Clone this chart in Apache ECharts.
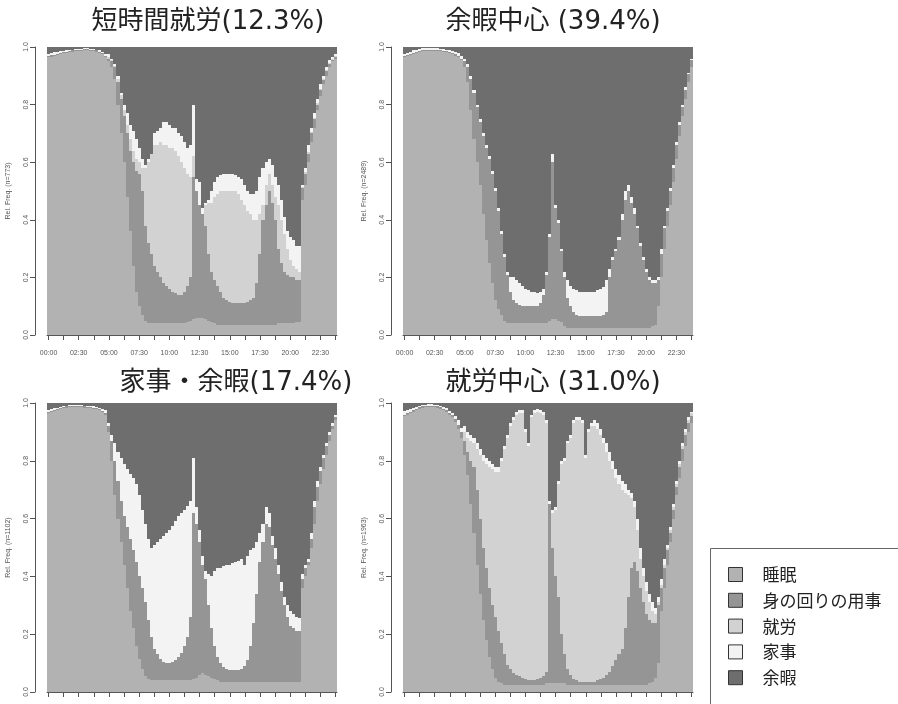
<!DOCTYPE html>
<html>
<head>
<meta charset="utf-8">
<script src="https://cdn.jsdelivr.net/npm/echarts@6/dist/echarts.min.js"></script>
<style>
  html, body { margin: 0; padding: 0; background: #fff; }
  #chart { width: 898px; height: 704px; }
</style>
</head>
<body>
<div id="chart"></div>
<script>
// 15-minute time slots of the day
const slots = ["00:00","00:15","00:30","00:45","01:00","01:15","01:30","01:45","02:00","02:15","02:30","02:45","03:00","03:15","03:30","03:45","04:00","04:15","04:30","04:45","05:00","05:15","05:30","05:45","06:00","06:15","06:30","06:45","07:00","07:15","07:30","07:45","08:00","08:15","08:30","08:45","09:00","09:15","09:30","09:45","10:00","10:15","10:30","10:45","11:00","11:15","11:30","11:45","12:00","12:15","12:30","12:45","13:00","13:15","13:30","13:45","14:00","14:15","14:30","14:45","15:00","15:15","15:30","15:45","16:00","16:15","16:30","16:45","17:00","17:15","17:30","17:45","18:00","18:15","18:30","18:45","19:00","19:15","19:30","19:45","20:00","20:15","20:30","20:45","21:00","21:15","21:30","21:45","22:00","22:15","22:30","22:45","23:00","23:15","23:30","23:45"];
const tickLabels = ["00:00","02:30","05:00","07:30","10:00","12:30","15:00","17:30","20:00","22:30"];
const states = ["睡眠", "身の回りの用事", "就労", "家事", "余暇"];
const clusterTitles = ["短時間就労(12.3%)", "余暇中心 (39.4%)", "家事・余暇(17.4%)", "就労中心 (31.0%)"];
const clusterN = [773, 2489, 1102, 1963];

// Cumulative upper edge of each state (share of respondents), per slot.
// Cluster 1: 短時間就労
const c1Sleep = [0.965,0.967,0.969,0.972,0.975,0.978,0.98,0.982,0.984,0.985,
  0.986,0.987,0.988,0.988,0.987,0.986,0.984,0.98,0.975,0.965,
  0.95,0.93,0.89,0.80,0.70,0.60,0.48,0.36,0.24,0.15,
  0.10,0.07,0.05,0.04,0.04,0.04,0.04,0.04,0.04,0.04,
  0.04,0.04,0.04,0.04,0.04,0.04,0.045,0.05,0.055,0.06,
  0.06,0.06,0.055,0.05,0.045,0.04,0.035,0.035,0.035,0.035,
  0.035,0.035,0.035,0.035,0.035,0.035,0.035,0.035,0.035,0.035,
  0.035,0.035,0.035,0.035,0.035,0.035,0.04,0.04,0.04,0.04,
  0.04,0.04,0.045,0.045,0.47,0.52,0.60,0.67,0.72,0.78,
  0.83,0.87,0.90,0.93,0.95,0.96];
const c1Self = [0.969,0.971,0.973,0.976,0.979,0.982,0.984,0.986,0.988,0.989,
  0.99,0.991,0.992,0.992,0.991,0.99,0.988,0.984,0.979,0.97,
  0.96,0.95,0.93,0.88,0.82,0.76,0.70,0.64,0.60,0.57,
  0.56,0.50,0.38,0.32,0.28,0.24,0.22,0.20,0.18,0.17,
  0.16,0.15,0.145,0.14,0.14,0.15,0.17,0.20,0.55,0.50,
  0.45,0.42,0.38,0.28,0.22,0.19,0.17,0.15,0.13,0.12,
  0.115,0.11,0.11,0.11,0.11,0.11,0.115,0.12,0.13,0.18,
  0.28,0.40,0.45,0.50,0.46,0.40,0.30,0.25,0.22,0.21,
  0.20,0.20,0.19,0.19,0.51,0.56,0.63,0.70,0.75,0.80,
  0.85,0.885,0.915,0.94,0.955,0.965];
const c1Work = [0.969,0.971,0.973,0.976,0.979,0.982,0.984,0.986,0.988,0.989,
  0.99,0.991,0.992,0.992,0.991,0.99,0.988,0.984,0.979,0.97,
  0.965,0.955,0.935,0.89,0.835,0.78,0.73,0.68,0.64,0.61,
  0.60,0.58,0.58,0.60,0.63,0.66,0.66,0.67,0.66,0.66,
  0.65,0.65,0.64,0.62,0.60,0.58,0.56,0.55,0.62,0.50,
  0.45,0.42,0.45,0.46,0.46,0.48,0.49,0.50,0.50,0.50,
  0.50,0.50,0.50,0.49,0.47,0.45,0.43,0.42,0.40,0.40,
  0.42,0.45,0.52,0.56,0.52,0.48,0.45,0.40,0.35,0.30,
  0.26,0.24,0.23,0.22,0.515,0.565,0.635,0.705,0.755,0.805,
  0.855,0.89,0.92,0.945,0.96,0.97];
const c1House = [0.977,0.979,0.981,0.983,0.985,0.987,0.989,0.99,0.991,0.992,
  0.993,0.994,0.995,0.995,0.994,0.993,0.991,0.988,0.984,0.977,
  0.975,0.96,0.94,0.90,0.84,0.80,0.77,0.73,0.71,0.68,
  0.65,0.61,0.59,0.61,0.63,0.70,0.71,0.72,0.74,0.74,
  0.73,0.72,0.72,0.70,0.69,0.67,0.65,0.66,0.80,0.54,
  0.53,0.44,0.46,0.47,0.50,0.53,0.55,0.555,0.56,0.56,
  0.56,0.56,0.555,0.55,0.54,0.52,0.50,0.49,0.49,0.50,
  0.55,0.58,0.60,0.61,0.59,0.55,0.52,0.47,0.41,0.36,
  0.34,0.33,0.31,0.31,0.52,0.58,0.66,0.72,0.77,0.82,
  0.87,0.90,0.93,0.955,0.965,0.975];

// Cluster 2: 余暇中心
const c2Sleep = [0.965,0.968,0.972,0.976,0.98,0.983,0.985,0.986,0.987,0.987,
  0.987,0.986,0.985,0.983,0.981,0.978,0.975,0.97,0.965,0.955,
  0.93,0.88,0.78,0.68,0.60,0.52,0.42,0.33,0.25,0.18,
  0.12,0.09,0.07,0.05,0.04,0.04,0.04,0.04,0.04,0.04,
  0.04,0.04,0.04,0.04,0.04,0.04,0.04,0.04,0.05,0.055,
  0.055,0.05,0.045,0.03,0.025,0.025,0.025,0.025,0.025,0.025,
  0.025,0.025,0.025,0.025,0.025,0.025,0.025,0.025,0.025,0.025,
  0.025,0.025,0.025,0.025,0.025,0.025,0.025,0.025,0.025,0.025,
  0.025,0.025,0.03,0.035,0.10,0.20,0.30,0.38,0.45,0.53,
  0.61,0.69,0.76,0.82,0.88,0.93];
const c2Self = [0.969,0.972,0.976,0.98,0.984,0.987,0.989,0.99,0.991,0.991,
  0.991,0.99,0.989,0.987,0.985,0.982,0.979,0.974,0.969,0.96,
  0.95,0.93,0.89,0.84,0.79,0.74,0.69,0.65,0.61,0.56,
  0.50,0.43,0.35,0.27,0.21,0.15,0.12,0.11,0.105,0.10,
  0.10,0.10,0.10,0.10,0.10,0.11,0.14,0.21,0.34,0.60,
  0.44,0.39,0.29,0.20,0.13,0.10,0.08,0.07,0.065,0.065,
  0.065,0.065,0.065,0.065,0.065,0.065,0.07,0.08,0.20,0.26,
  0.29,0.33,0.40,0.47,0.50,0.46,0.42,0.37,0.31,0.26,
  0.22,0.19,0.18,0.18,0.19,0.28,0.37,0.43,0.50,0.58,
  0.66,0.73,0.79,0.85,0.905,0.955];
const c2Work = c2Self.slice();
const c2House = [0.977,0.98,0.984,0.988,0.991,0.993,0.995,0.996,0.996,0.996,
  0.996,0.995,0.994,0.993,0.991,0.989,0.986,0.982,0.978,0.97,
  0.96,0.94,0.90,0.85,0.80,0.75,0.70,0.66,0.62,0.57,
  0.51,0.44,0.36,0.28,0.22,0.20,0.20,0.19,0.18,0.17,
  0.16,0.155,0.15,0.15,0.145,0.15,0.16,0.22,0.35,0.63,
  0.45,0.40,0.30,0.22,0.19,0.17,0.16,0.155,0.15,0.15,
  0.15,0.15,0.15,0.15,0.155,0.16,0.165,0.19,0.23,0.27,
  0.30,0.34,0.42,0.50,0.52,0.48,0.44,0.38,0.32,0.27,
  0.23,0.20,0.19,0.19,0.20,0.30,0.38,0.44,0.51,0.59,
  0.67,0.74,0.80,0.86,0.91,0.96];

// Cluster 3: 家事・余暇
const c3Sleep = [0.965,0.968,0.972,0.976,0.979,0.982,0.984,0.985,0.986,0.986,
  0.986,0.985,0.984,0.983,0.982,0.98,0.978,0.975,0.97,0.96,
  0.90,0.80,0.68,0.60,0.52,0.44,0.36,0.28,0.22,0.16,
  0.115,0.08,0.055,0.045,0.04,0.04,0.04,0.04,0.04,0.04,
  0.04,0.04,0.04,0.04,0.04,0.04,0.04,0.04,0.045,0.05,
  0.06,0.065,0.06,0.055,0.05,0.045,0.04,0.035,0.035,0.035,
  0.035,0.035,0.035,0.035,0.035,0.035,0.035,0.035,0.035,0.035,
  0.035,0.035,0.035,0.035,0.035,0.035,0.035,0.035,0.035,0.035,
  0.035,0.035,0.035,0.035,0.36,0.40,0.44,0.50,0.58,0.66,
  0.72,0.77,0.82,0.87,0.91,0.94];
const c3Self = [0.969,0.972,0.976,0.98,0.983,0.986,0.988,0.989,0.99,0.99,
  0.99,0.989,0.988,0.987,0.986,0.984,0.982,0.979,0.974,0.965,
  0.92,0.87,0.80,0.73,0.66,0.61,0.57,0.53,0.49,0.45,
  0.40,0.36,0.31,0.25,0.19,0.15,0.13,0.115,0.105,0.10,
  0.10,0.105,0.11,0.12,0.135,0.16,0.19,0.26,0.62,0.58,
  0.52,0.44,0.39,0.30,0.22,0.16,0.12,0.10,0.085,0.08,
  0.075,0.075,0.075,0.075,0.08,0.09,0.11,0.16,0.24,0.34,
  0.45,0.52,0.58,0.57,0.51,0.46,0.41,0.35,0.30,0.26,
  0.23,0.22,0.21,0.21,0.39,0.43,0.45,0.53,0.64,0.71,
  0.765,0.81,0.85,0.89,0.92,0.95];
const c3Work = c3Self.slice();
const c3House = [0.975,0.978,0.981,0.984,0.987,0.989,0.991,0.992,0.993,0.993,
  0.993,0.992,0.991,0.99,0.989,0.988,0.986,0.984,0.98,0.975,
  0.93,0.89,0.86,0.83,0.81,0.79,0.77,0.755,0.74,0.72,
  0.68,0.63,0.58,0.53,0.50,0.51,0.52,0.53,0.54,0.55,
  0.56,0.575,0.59,0.61,0.62,0.63,0.645,0.66,0.81,0.64,
  0.56,0.47,0.42,0.41,0.40,0.42,0.43,0.43,0.435,0.44,
  0.44,0.445,0.45,0.455,0.46,0.44,0.47,0.49,0.50,0.52,
  0.55,0.58,0.64,0.62,0.54,0.50,0.44,0.38,0.33,0.30,
  0.28,0.27,0.26,0.255,0.41,0.44,0.46,0.55,0.66,0.73,
  0.78,0.82,0.86,0.90,0.93,0.96];

// Cluster 4: 就労中心
const c4Sleep = [0.955,0.96,0.965,0.97,0.975,0.98,0.983,0.985,0.986,0.986,
  0.985,0.983,0.98,0.975,0.97,0.96,0.95,0.935,0.91,0.88,
  0.82,0.75,0.65,0.55,0.44,0.34,0.25,0.18,0.12,0.08,
  0.05,0.035,0.03,0.025,0.025,0.025,0.025,0.025,0.025,0.025,
  0.025,0.025,0.025,0.025,0.025,0.025,0.025,0.03,0.03,0.03,
  0.03,0.03,0.03,0.03,0.025,0.025,0.025,0.025,0.025,0.025,
  0.025,0.025,0.025,0.025,0.025,0.025,0.025,0.025,0.025,0.025,
  0.025,0.025,0.025,0.025,0.025,0.025,0.025,0.025,0.025,0.025,
  0.025,0.03,0.035,0.05,0.10,0.28,0.36,0.44,0.52,0.60,
  0.68,0.74,0.80,0.85,0.90,0.93];
const c4Self = [0.96,0.965,0.97,0.975,0.98,0.985,0.988,0.99,0.991,0.991,
  0.99,0.988,0.985,0.98,0.975,0.965,0.957,0.945,0.925,0.90,
  0.87,0.83,0.80,0.78,0.70,0.60,0.50,0.43,0.36,0.30,
  0.26,0.21,0.17,0.13,0.095,0.08,0.065,0.06,0.055,0.05,
  0.045,0.04,0.04,0.04,0.045,0.05,0.055,0.07,0.65,0.50,
  0.40,0.33,0.20,0.13,0.08,0.06,0.045,0.04,0.035,0.035,
  0.035,0.035,0.035,0.035,0.04,0.045,0.05,0.06,0.07,0.09,
  0.11,0.13,0.15,0.22,0.33,0.43,0.45,0.42,0.36,0.31,
  0.27,0.25,0.24,0.24,0.30,0.36,0.43,0.49,0.55,0.63,
  0.71,0.78,0.84,0.89,0.93,0.955];
const c4Work = [0.96,0.965,0.97,0.975,0.98,0.985,0.988,0.99,0.991,0.991,
  0.99,0.988,0.985,0.98,0.975,0.965,0.957,0.945,0.925,0.90,
  0.90,0.88,0.87,0.86,0.84,0.82,0.80,0.79,0.78,0.77,
  0.76,0.76,0.80,0.84,0.88,0.92,0.94,0.96,0.965,0.965,
  0.90,0.85,0.95,0.965,0.97,0.965,0.96,0.93,0.65,0.62,
  0.63,0.72,0.79,0.80,0.86,0.88,0.93,0.94,0.94,0.93,
  0.81,0.90,0.92,0.92,0.91,0.89,0.86,0.83,0.80,0.77,
  0.74,0.72,0.70,0.69,0.68,0.67,0.64,0.56,0.46,0.40,
  0.35,0.31,0.28,0.27,0.31,0.37,0.44,0.50,0.56,0.64,
  0.72,0.79,0.85,0.90,0.94,0.965];
const c4House = [0.972,0.976,0.98,0.984,0.987,0.99,0.992,0.994,0.995,0.995,
  0.994,0.992,0.99,0.986,0.982,0.974,0.966,0.955,0.94,0.915,
  0.92,0.90,0.89,0.88,0.86,0.84,0.82,0.81,0.80,0.79,
  0.78,0.78,0.81,0.85,0.89,0.93,0.95,0.97,0.975,0.975,
  0.91,0.86,0.96,0.975,0.98,0.975,0.97,0.94,0.66,0.63,
  0.64,0.73,0.80,0.81,0.87,0.89,0.94,0.95,0.95,0.94,
  0.82,0.91,0.93,0.94,0.93,0.91,0.88,0.86,0.83,0.80,
  0.77,0.75,0.73,0.72,0.70,0.69,0.66,0.60,0.50,0.43,
  0.38,0.34,0.31,0.29,0.33,0.39,0.46,0.51,0.57,0.65,
  0.73,0.80,0.86,0.91,0.95,0.97];

const clusterLevels = [
  [c1Sleep, c1Self, c1Work, c1House],
  [c2Sleep, c2Self, c2Work, c2House],
  [c3Sleep, c3Self, c3Work, c3House],
  [c4Sleep, c4Self, c4Work, c4House]
];

// ---- styling / layout ----
const stateColors = ["#b2b2b2", "#959595", "#d2d2d2", "#f3f3f3", "#6e6e6e"];
const plotBoxes = [
  { left: 47, top: 47, width: 290, height: 288 },
  { left: 403, top: 47, width: 290, height: 288 },
  { left: 47, top: 403, width: 290, height: 289 },
  { left: 403, top: 403, width: 290, height: 289 }
];
const titleAnchors = [[208, 22], [553, 22], [236, 383], [553, 383]];
const axisFont = "Liberation Sans, Arial, sans-serif";
const axisGrey = "#555";

// Whole-pixel edge; the small bias keeps shared edges of neighbouring slots identical.
const snap = (v) => Math.round(v + 1e-3);

// One block per slot, from the lower to the upper edge of a state.
function renderSlot(params, api) {
  const i = api.value(0);
  const lo = api.coord([i, api.value(1)]);
  const hi = api.coord([i, api.value(2)]);
  const w = api.size([1, 0])[0];
  const x0 = snap(lo[0] - w / 2), x1 = snap(lo[0] + w / 2);
  const yb = snap(lo[1]), yt = snap(hi[1]);
  if (yb - yt <= 0 || x1 - x0 <= 0) return null;
  return {
    type: "rect",
    shape: { x: x0, y: yt, width: x1 - x0, height: yb - yt },
    style: { fill: api.visual("color") }
  };
}

const grids = [], xAxes = [], yAxes = [], series = [];
clusterLevels.forEach((levels, k) => {
  grids.push(Object.assign({ containLabel: false, outerBoundsMode: "none" }, plotBoxes[k]));
  xAxes.push({
    type: "category", gridIndex: k, data: slots, boundaryGap: true,
    offset: 7,
    axisLine: { show: true, lineStyle: { color: axisGrey, width: 1 } },
    axisTick: { show: true, alignWithLabel: true, length: 5,
      interval: (i) => i % 5 === 0, lineStyle: { color: axisGrey } },
    axisLabel: { show: true, interval: (i, v) => tickLabels.indexOf(v) >= 0,
      fontSize: 7, color: axisGrey, fontFamily: axisFont, margin: 8 },
    splitLine: { show: false }
  });
  yAxes.push({
    type: "value", gridIndex: k, min: 0, max: 1, interval: 0.2, offset: 12,
    name: "Rel. Freq. (n=" + clusterN[k] + ")", nameLocation: "middle", nameGap: 23,
    nameTextStyle: { fontSize: 7, color: axisGrey, fontFamily: axisFont },
    axisLine: { show: true, lineStyle: { color: axisGrey, width: 1 } },
    axisTick: { show: true, length: 5, lineStyle: { color: axisGrey } },
    axisLabel: { rotate: 90, fontSize: 7, color: axisGrey, fontFamily: axisFont, margin: 5,
      formatter: (v) => v.toFixed(1) },
    splitLine: { show: false }
  });
  states.forEach((s, j) => {
    const lower = j === 0 ? null : levels[j - 1];
    const upper = j === 4 ? null : levels[j];
    const data = slots.map((_, i) => [i, lower ? lower[i] : 0, upper ? upper[i] : 1]);
    series.push({
      name: s, type: "custom", xAxisIndex: k, yAxisIndex: k,
      data: data, encode: { x: 0, y: [1, 2] },
      itemStyle: { color: stateColors[j] },
      renderItem: renderSlot, clip: true,
      emphasis: { disabled: true }, animation: false, silent: true
    });
  });
});

const titleFont = "'DejaVu Sans', 'Noto Sans CJK JP', sans-serif";
const graphics = clusterTitles.map((t, k) => ({
  type: "text", x: titleAnchors[k][0], y: titleAnchors[k][1], silent: true,
  style: { text: t, fontSize: 26, fontFamily: titleFont, fill: "#222",
    textAlign: "center", textVerticalAlign: "middle" }
}));
graphics.push({
  type: "rect", silent: true, z: -1,
  shape: { x: 710.5, y: 548.5, width: 240, height: 200 },
  style: { fill: "#fff", stroke: "#666", lineWidth: 1 }
});

const chart = echarts.init(document.getElementById("chart"), null, { renderer: "canvas" });
chart.setOption({
  animation: false,
  backgroundColor: "#fff",
  grid: grids, xAxis: xAxes, yAxis: yAxes, series: series,
  graphic: graphics,
  legend: {
    data: states, orient: "vertical", left: 723, top: 561,
    icon: "rect", itemWidth: 14, itemHeight: 14, itemGap: 8.8,
    itemStyle: { borderColor: "#333", borderWidth: 1 },
    textStyle: { fontSize: 17, lineHeight: 16, color: "#222",
      fontFamily: "'Noto Sans CJK JP', sans-serif", padding: [0, 0, 0, 15] },
    selectedMode: false
  }
});
</script>
</body>
</html>
